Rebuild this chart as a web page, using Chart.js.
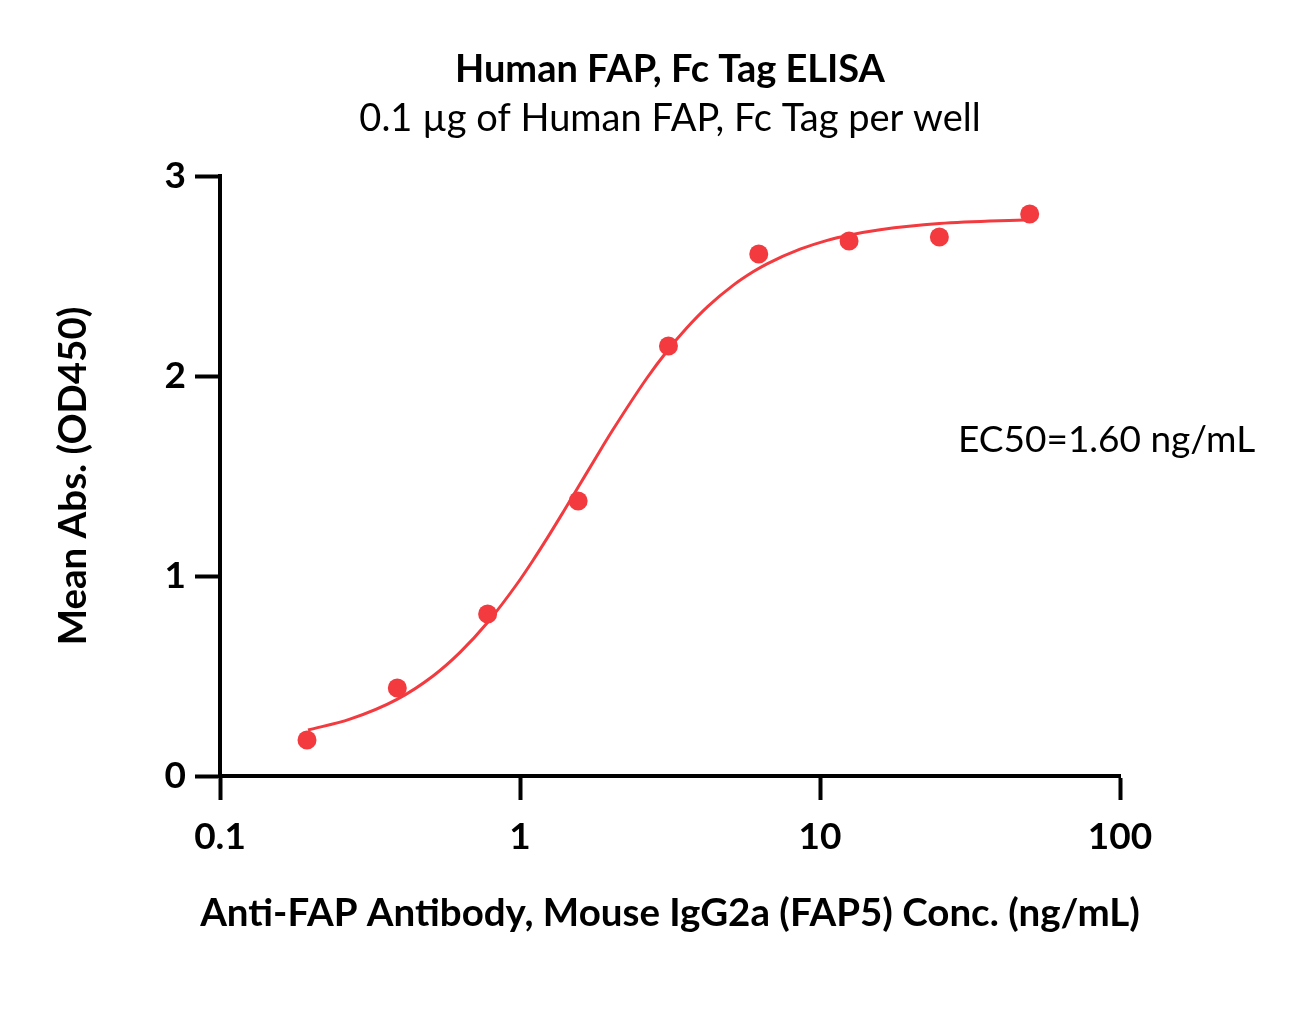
<!DOCTYPE html>
<html><head><meta charset="utf-8">
<script src="https://cdn.jsdelivr.net/npm/chart.js@4/dist/chart.umd.min.js"></script>
<style>html,body{margin:0;padding:0;background:#fff;} #wrap{width:1297px;height:1032px;}</style>
</head><body><div id="wrap"><canvas id="c" width="1297" height="1032"></canvas></div>
<script>
const titleText = 'Human FAP, Fc Tag ELISA';
const subtitleText = '0.1 µg of Human FAP, Fc Tag per well';
const xAxisTitle = 'Anti-FAP Antibody, Mouse IgG2a (FAP5) Conc. (ng/mL)';
const yAxisTitle = 'Mean Abs. (OD450)';
const ec50Text = 'EC50=1.60 ng/mL';

const concentrations = [0.195, 0.39, 0.78, 1.5625, 3.125, 6.25, 12.5, 25, 50];
const meanAbs = [0.18, 0.44, 0.81, 1.375, 2.15, 2.61, 2.675, 2.695, 2.81];

const fitX = [0.1965, 0.271, 0.389, 0.513, 0.631, 0.782, 0.977, 1.1, 1.259, 1.4, 1.56, 1.8, 2.04, 2.65, 3.09, 3.6, 4.23, 5.13, 6.0, 6.66, 8.58, 10.5, 12.6, 15.85, 25, 50];
const fitY = [0.23, 0.284, 0.383, 0.5, 0.618, 0.77, 0.96, 1.074, 1.212, 1.325, 1.442, 1.598, 1.731, 1.99, 2.124, 2.241, 2.348, 2.453, 2.522, 2.561, 2.634, 2.677, 2.705, 2.731, 2.762, 2.781];

const xTickValues = [0.1, 1, 10, 100];
const xTickLabels = ['0.1', '1', '10', '100'];
const yTickValues = [0, 1, 2, 3];

const RED = '#F23A3F';
const FONT = 'Lato';

const textPlugin = {
  id: 'texts',
  afterDraw(chart) {
    const ctx = chart.ctx, a = chart.chartArea;
    const cx = (a.left + a.right) / 2;
    ctx.save();
    ctx.fillStyle = '#000';
    ctx.textAlign = 'center';
    ctx.textBaseline = 'alphabetic';
    ctx.font = 'bold 38px ' + FONT;
    ctx.fillText(titleText, cx, 82);
    ctx.font = '38px ' + FONT;
    ctx.fillText(subtitleText, cx, 131);
    ctx.font = 'bold 38.5px ' + FONT;
    ctx.fillText(xAxisTitle, cx, 926);
    ctx.textAlign = 'left';
    ctx.font = '37px ' + FONT;
    ctx.fillText(ec50Text, 958, 452);
    ctx.restore();
  }
};

new Chart(document.getElementById('c'), {
  type: 'scatter',
  data: {
    datasets: [
      {
        label: 'fit',
        data: fitX.map((x, i) => ({x: x, y: fitY[i]})),
        showLine: true,
        borderColor: RED,
        borderWidth: 3,
        pointRadius: 0,
        cubicInterpolationMode: 'monotone',
        clip: false,
        order: 2
      },
      {
        label: 'data',
        data: concentrations.map((x, i) => ({x: x, y: meanAbs[i]})),
        showLine: false,
        pointRadius: 9.5,
        pointBackgroundColor: RED,
        pointBorderWidth: 0,
        clip: false,
        order: 1
      }
    ]
  },
  options: {
    responsive: false,
    animation: false,
    layout: {padding: {top: 176, right: 177, bottom: 0, left: 0}},
    plugins: {legend: {display: false}, tooltip: {enabled: false}, title: {display: false}},
    scales: {
      x: {
        type: 'logarithmic',
        position: 'bottom',
        min: 0.1, max: 100,
        afterBuildTicks: s => { s.ticks = xTickValues.map(v => ({value: v})); },
        afterFit: s => { s.height = 256; },
        ticks: {
          autoSkip: false, maxRotation: 0, color: '#000', padding: 15,
          font: {family: FONT, size: 37, weight: 'bold'},
          callback: (v) => { const i = xTickValues.indexOf(v); return i >= 0 ? xTickLabels[i] : ''; }
        },
        grid: {drawOnChartArea: false, drawTicks: true, tickLength: 24, tickWidth: 4, tickColor: '#000'},
        border: {display: true, color: '#000', width: 4},
        title: {display: false, text: xAxisTitle}
      },
      y: {
        type: 'linear',
        min: 0, max: 3,
        afterBuildTicks: s => { s.ticks = yTickValues.map(v => ({value: v})); },
        afterFit: s => { s.width = 220; },
        ticks: {color: '#000', padding: 9, font: {family: FONT, size: 37, weight: 'bold'}},
        grid: {drawOnChartArea: false, drawTicks: true, tickLength: 25, tickWidth: 4, tickColor: '#000'},
        border: {display: true, color: '#000', width: 4},
        title: {display: true, text: yAxisTitle, color: '#000', font: {family: FONT, size: 38.5, weight: 'bold'}, padding: {top: 50, bottom: 0}}
      }
    }
  },
  plugins: [textPlugin]
});
</script>
</body></html>
